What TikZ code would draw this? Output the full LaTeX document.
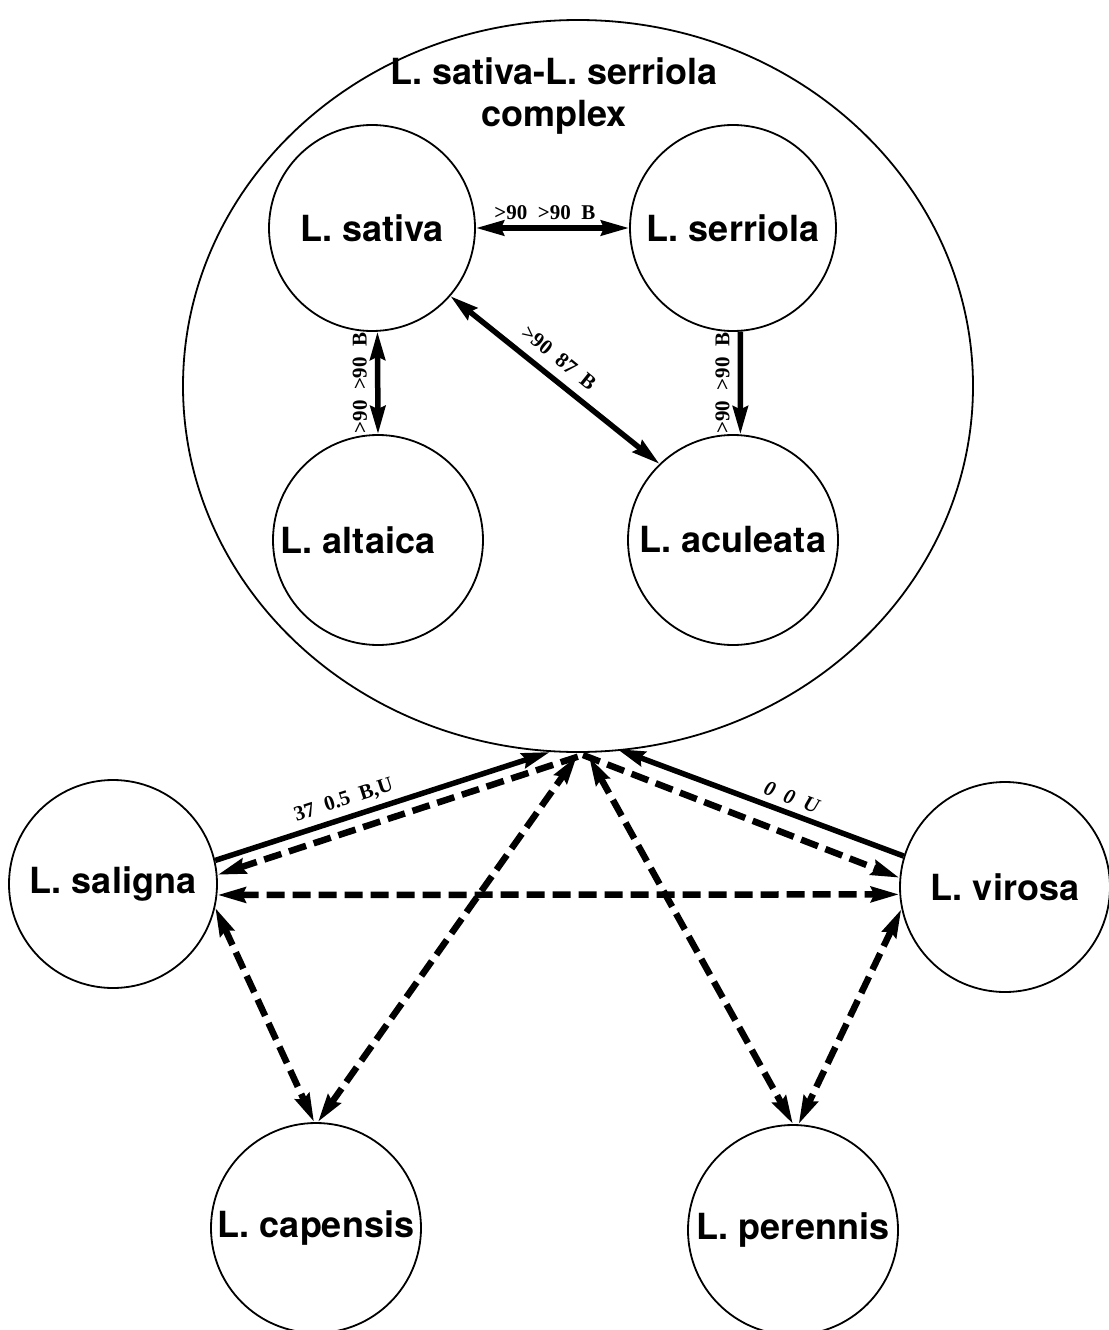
\documentclass[tikz,border=0pt]{standalone}
\usepackage{fontspec}
\setmainfont{Liberation Serif}
\newfontfamily\heros{TeX Gyre Heros}
\usetikzlibrary{arrows.meta,shapes.geometric}
\begin{document}
\begin{tikzpicture}[x=1pt,y=-1pt,
  >={Stealth[length=28pt,width=15pt,inset=3pt]},
  sp/.style={circle, draw, line width=1.8pt, minimum size=208pt, inner sep=0pt,
             font=\heros\bfseries\fontsize{36}{40}\selectfont},
  lab/.style={font=\bfseries\fontsize{21}{23}\selectfont, inner sep=1pt},
  sol/.style={line width=5.5pt},
  dsh/.style={line width=6.5pt, dash pattern=on 18pt off 8pt}
]
\useasboundingbox (0,0) rectangle (1108,1330);

% complex
\node[draw, ellipse, line width=1.8pt, minimum width=790pt, minimum height=732pt, inner sep=0pt] (cx) at (578,386) {};
\node[font=\heros\bfseries\fontsize{36}{42}\selectfont, align=center] (title) at (554,96) {L. sativa-L. serriola\\complex};

\node[sp, minimum size=206pt] (sativa) at (372,228) {L. sativa};
\node[sp, minimum size=206pt] (serriola) at (733,228) {L. serriola};
\node[sp, minimum size=210pt, label={[font=\heros\bfseries\fontsize{36}{40}\selectfont, xshift=-20pt]center:L. altaica}] (altaica) at (378,540) {};
\node[sp, minimum size=210pt] (aculeata) at (733,540) {L. aculeata};

\node[sp] (saligna) at (113,884) {L. saligna};
\node[sp, minimum size=210pt] (virosa) at (1005,887) {L. virosa};
\node[sp, minimum size=210pt] (capensis) at (316,1228) {L. capensis};
\node[sp, minimum size=210pt] (perennis) at (793,1230) {L. perennis};

\coordinate (hub) at (583,755);
\coordinate (hubC) at (577,756);
\coordinate (hubP) at (589,757);
\coordinate (sl) at (550,752);
\coordinate (vr) at (617,749);

% inside complex
\draw[sol,<->] (sativa.east) -- node[lab,above=5pt,pos=0.45]{>90\ \ >90\ \ B} (serriola.west);
\draw[sol,<->] (altaica.90) -- node[lab,sloped,allow upside down,above=7pt]{>90\ \ >90\ \ B} (sativa.-87);
\draw[sol,<->] (sativa.-41.5) -- node[lab,sloped,above=9pt,pos=0.46]{>90\ \ 87\ \ B} (aculeata.134.6);
\draw[sol,<-] (aculeata.86) -- node[lab,sloped,allow upside down,above=7pt]{>90\ \ >90\ \ B} (serriola.-86);

% outside
\draw[sol,->] (saligna.13) -- node[lab,sloped,above=5pt,pos=0.4]{37\ \ 0.5\ \ B,U} (sl);
\draw[dsh,<-] (saligna.5) -- (hub);
\draw[dsh,<->] (saligna.-6) -- (virosa.184.5);
\draw[dsh,<->] (saligna.-13) -- (capensis.91);
\draw[dsh,<->] (capensis.89) -- (hubC);
\draw[dsh,<->] (hubP) -- (perennis.90);
\draw[dsh,<->] (virosa.192) -- (perennis.87);
\draw[dsh,->] (hub) -- (virosa.175);
\draw[sol,<-] (vr) -- node[lab,sloped,above=5pt,pos=0.59]{\itshape 0\ \ 0\ \ U} (virosa.163);
\end{tikzpicture}
\end{document}
